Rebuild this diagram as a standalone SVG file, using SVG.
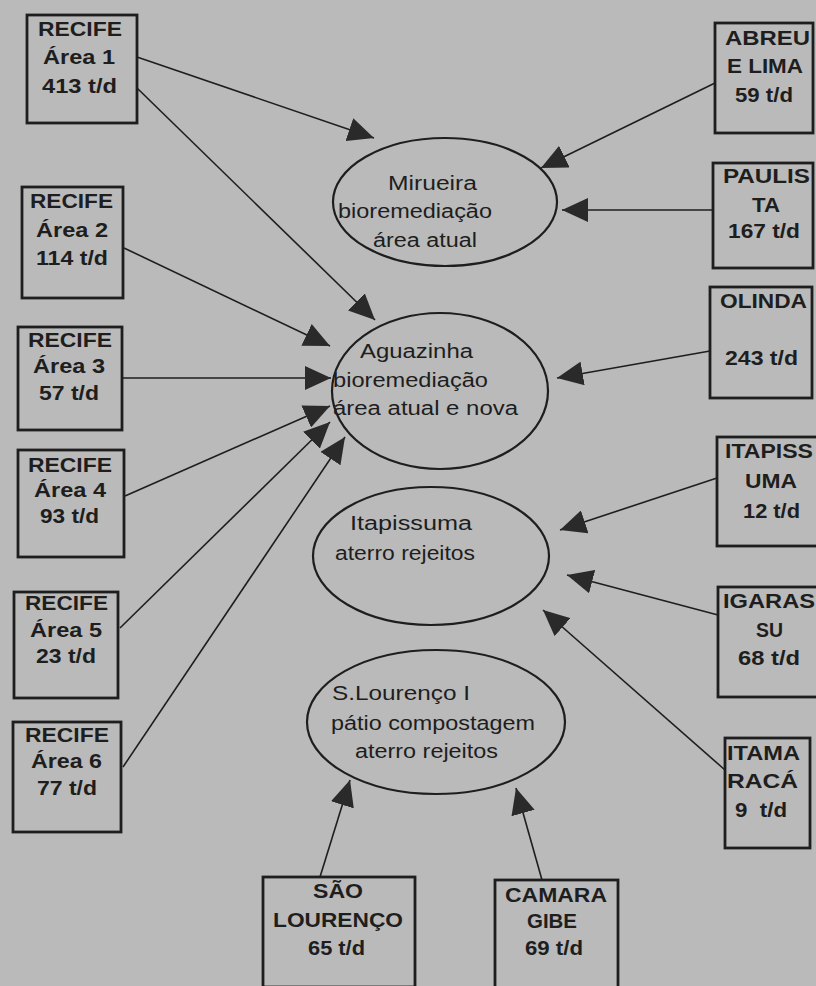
<svg xmlns="http://www.w3.org/2000/svg" width="816" height="986" viewBox="0 0 816 986">
<style>
.bg{fill:#bababa}
.box{fill:none;stroke:#1e1e1e;stroke-width:2.8}
.ell{fill:none;stroke:#1e1e1e;stroke-width:2.2}
.bt{font-family:"Liberation Sans",Arial,sans-serif;font-size:20px;font-weight:bold;fill:#1e1e1e}
.et{font-family:"Liberation Sans",Arial,sans-serif;font-size:20px;fill:#1e1e1e}
.con{stroke:#1e1e1e;stroke-width:1.6;fill:none;marker-end:url(#ah)}
</style>
<defs>
<marker id="ah" markerUnits="userSpaceOnUse" markerWidth="26" markerHeight="24" refX="26" refY="12" orient="auto">
<path d="M0,0 L26,12 L0,24 z" fill="#2a2a2a"/>
</marker>
</defs>
<rect class="bg" x="0" y="0" width="816" height="986"/>

<g id="connectors">
<line class="con" x1="137" y1="57" x2="374" y2="138"/>
<line class="con" x1="137" y1="88" x2="375" y2="320"/>
<line class="con" x1="124" y1="248" x2="330" y2="346"/>
<line class="con" x1="122" y1="378" x2="331" y2="378"/>
<line class="con" x1="125" y1="496" x2="330" y2="406"/>
<line class="con" x1="120" y1="628" x2="330" y2="422"/>
<line class="con" x1="123" y1="767" x2="345" y2="437"/>
<line class="con" x1="715" y1="83" x2="541" y2="168"/>
<line class="con" x1="713" y1="210" x2="562" y2="210"/>
<line class="con" x1="710" y1="351" x2="557" y2="378"/>
<line class="con" x1="717" y1="478" x2="560" y2="530"/>
<line class="con" x1="718" y1="615" x2="567" y2="575"/>
<line class="con" x1="725" y1="770" x2="543" y2="610"/>
<line class="con" x1="320" y1="877" x2="350" y2="780"/>
<line class="con" x1="542" y1="880" x2="516" y2="788"/>
</g>

<g id="mirueira">
<ellipse class="ell" cx="445" cy="202" rx="112" ry="64"/>
<text class="et" x="388" y="190" textLength="89" lengthAdjust="spacingAndGlyphs">Mirueira</text>
<text class="et" x="338" y="218" textLength="154" lengthAdjust="spacingAndGlyphs">bioremediação</text>
<text class="et" x="373" y="247" textLength="104" lengthAdjust="spacingAndGlyphs">área atual</text>
</g>
<g id="aguazinha">
<ellipse class="ell" cx="440" cy="391" rx="108" ry="78"/>
<text class="et" x="360" y="358" textLength="113" lengthAdjust="spacingAndGlyphs">Aguazinha</text>
<text class="et" x="333" y="387" textLength="155" lengthAdjust="spacingAndGlyphs">bioremediação</text>
<text class="et" x="333" y="415" textLength="185" lengthAdjust="spacingAndGlyphs">área atual e nova</text>
</g>
<g id="itapissuma">
<ellipse class="ell" cx="431" cy="556" rx="118" ry="69"/>
<text class="et" x="350" y="530" textLength="122" lengthAdjust="spacingAndGlyphs">Itapissuma</text>
<text class="et" x="335" y="560" textLength="140" lengthAdjust="spacingAndGlyphs">aterro rejeitos</text>
</g>
<g id="slourenco">
<ellipse class="ell" cx="436" cy="722" rx="129" ry="72"/>
<text class="et" x="332" y="700" textLength="138" lengthAdjust="spacingAndGlyphs">S.Lourenço I</text>
<text class="et" x="331" y="730" textLength="204" lengthAdjust="spacingAndGlyphs">pátio compostagem</text>
<text class="et" x="355" y="758" textLength="143" lengthAdjust="spacingAndGlyphs">aterro rejeitos</text>
</g>

<g id="recife1">
<rect class="box" x="27" y="15" width="110" height="108"/>
<text class="bt" x="38" y="36" textLength="84" lengthAdjust="spacingAndGlyphs">RECIFE</text>
<text class="bt" x="43" y="64" textLength="72" lengthAdjust="spacingAndGlyphs">Área 1</text>
<text class="bt" x="42" y="93" textLength="75" lengthAdjust="spacingAndGlyphs">413 t/d</text>
</g>
<g id="recife2">
<rect class="box" x="22" y="187" width="101" height="111"/>
<text class="bt" x="30" y="208" textLength="83" lengthAdjust="spacingAndGlyphs">RECIFE</text>
<text class="bt" x="36" y="237" textLength="72" lengthAdjust="spacingAndGlyphs">Área 2</text>
<text class="bt" x="36" y="265" textLength="72" lengthAdjust="spacingAndGlyphs">114 t/d</text>
</g>
<g id="recife3">
<rect class="box" x="18" y="327" width="104" height="103"/>
<text class="bt" x="28" y="347" textLength="84" lengthAdjust="spacingAndGlyphs">RECIFE</text>
<text class="bt" x="33" y="373" textLength="72" lengthAdjust="spacingAndGlyphs">Área 3</text>
<text class="bt" x="39" y="400" textLength="60" lengthAdjust="spacingAndGlyphs">57 t/d</text>
</g>
<g id="recife4">
<rect class="box" x="18" y="450" width="106" height="107"/>
<text class="bt" x="28" y="472" textLength="84" lengthAdjust="spacingAndGlyphs">RECIFE</text>
<text class="bt" x="34" y="497" textLength="72" lengthAdjust="spacingAndGlyphs">Área 4</text>
<text class="bt" x="40" y="523" textLength="59" lengthAdjust="spacingAndGlyphs">93 t/d</text>
</g>
<g id="recife5">
<rect class="box" x="14" y="592" width="104" height="106"/>
<text class="bt" x="25" y="610" textLength="83" lengthAdjust="spacingAndGlyphs">RECIFE</text>
<text class="bt" x="30" y="637" textLength="72" lengthAdjust="spacingAndGlyphs">Área 5</text>
<text class="bt" x="36" y="663" textLength="60" lengthAdjust="spacingAndGlyphs">23 t/d</text>
</g>
<g id="recife6">
<rect class="box" x="13" y="722" width="108" height="110"/>
<text class="bt" x="25" y="742" textLength="84" lengthAdjust="spacingAndGlyphs">RECIFE</text>
<text class="bt" x="31" y="768" textLength="71" lengthAdjust="spacingAndGlyphs">Área 6</text>
<text class="bt" x="37" y="795" textLength="60" lengthAdjust="spacingAndGlyphs">77 t/d</text>
</g>

<g id="abreulima">
<rect class="box" x="715" y="23" width="98" height="110"/>
<text class="bt" x="725" y="45" textLength="85" lengthAdjust="spacingAndGlyphs">ABREU</text>
<text class="bt" x="727" y="73" textLength="76" lengthAdjust="spacingAndGlyphs">E LIMA</text>
<text class="bt" x="735" y="102" textLength="58" lengthAdjust="spacingAndGlyphs">59 t/d</text>
</g>
<g id="paulista">
<rect class="box" x="713" y="163" width="100" height="105"/>
<text class="bt" x="723" y="183" textLength="87" lengthAdjust="spacingAndGlyphs">PAULIS</text>
<text class="bt" x="752" y="212" textLength="28" lengthAdjust="spacingAndGlyphs">TA</text>
<text class="bt" x="728" y="238" textLength="72" lengthAdjust="spacingAndGlyphs">167 t/d</text>
</g>
<g id="olinda">
<rect class="box" x="710" y="287" width="102" height="111"/>
<text class="bt" x="720" y="308" textLength="87" lengthAdjust="spacingAndGlyphs">OLINDA</text>
<text class="bt" x="725" y="365" textLength="73" lengthAdjust="spacingAndGlyphs">243 t/d</text>
</g>
<g id="itapissuma-src">
<rect class="box" x="717" y="437" width="102" height="109"/>
<text class="bt" x="725" y="458" textLength="88" lengthAdjust="spacingAndGlyphs">ITAPISS</text>
<text class="bt" x="745" y="488" textLength="52" lengthAdjust="spacingAndGlyphs">UMA</text>
<text class="bt" x="743" y="518" textLength="57" lengthAdjust="spacingAndGlyphs">12 t/d</text>
</g>
<g id="igarassu">
<rect class="box" x="718" y="587" width="102" height="110"/>
<text class="bt" x="723" y="608" textLength="92" lengthAdjust="spacingAndGlyphs">IGARAS</text>
<text class="bt" x="756" y="637" textLength="27" lengthAdjust="spacingAndGlyphs">SU</text>
<text class="bt" x="738" y="665" textLength="62" lengthAdjust="spacingAndGlyphs">68 t/d</text>
</g>
<g id="itamaraca">
<rect class="box" x="725" y="738" width="85" height="110"/>
<text class="bt" x="727" y="760" textLength="73" lengthAdjust="spacingAndGlyphs">ITAMA</text>
<text class="bt" x="727" y="788" textLength="71" lengthAdjust="spacingAndGlyphs">RACÁ</text>
<text class="bt" x="735" y="817" textLength="52" lengthAdjust="spacingAndGlyphs" xml:space="preserve">9  t/d</text>
</g>
<g id="saolourenco">
<rect class="box" x="263" y="877" width="152" height="110"/>
<text class="bt" x="313" y="898" textLength="50" lengthAdjust="spacingAndGlyphs">SÃO</text>
<text class="bt" x="273" y="927" textLength="130" lengthAdjust="spacingAndGlyphs">LOURENÇO</text>
<text class="bt" x="308" y="955" textLength="57" lengthAdjust="spacingAndGlyphs">65 t/d</text>
</g>
<g id="camaragibe">
<rect class="box" x="495" y="880" width="123" height="108"/>
<text class="bt" x="505" y="902" textLength="102" lengthAdjust="spacingAndGlyphs">CAMARA</text>
<text class="bt" x="527" y="928" textLength="50" lengthAdjust="spacingAndGlyphs">GIBE</text>
<text class="bt" x="525" y="955" textLength="58" lengthAdjust="spacingAndGlyphs">69 t/d</text>
</g>
</svg>
